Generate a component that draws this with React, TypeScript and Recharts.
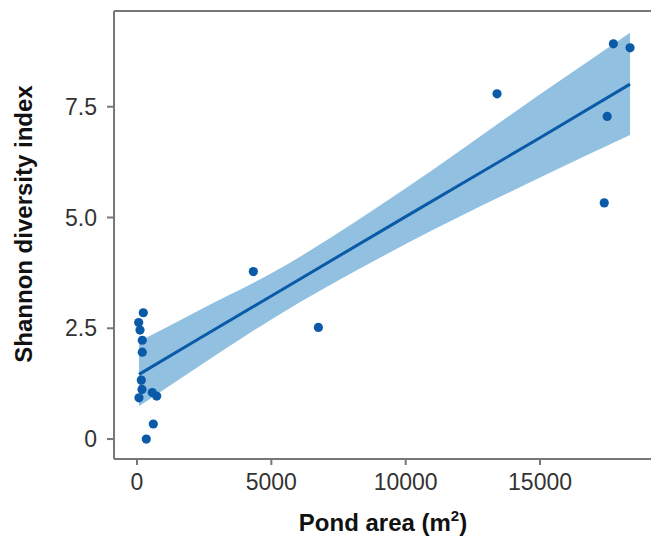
import React from 'react';
import {
  ComposedChart, Area, Line, Scatter, XAxis, YAxis, ReferenceLine
} from 'recharts';

// ponds: area (m2) vs Shannon index
const pondArea = [234, 63, 112, 197, 197, 160, 186, 74, 569, 733, 607, 346, 4330, 6750, 13400, 17730, 18350, 17500, 17390];
const shannon = [2.85, 2.63, 2.46, 2.23, 1.96, 1.33, 1.12, 0.93, 1.05, 0.97, 0.34, 0.0, 3.78, 2.52, 7.79, 8.92, 8.83, 7.28, 5.33];

// fitted line + confidence band
const fitX = [75, 2350, 5000, 10000, 15000, 18350];
const fitY = [1.46, 2.28, 3.23, 5.02, 6.80, 8.01];
const bandLow = [0.74, 1.66, 2.70, 4.40, 5.90, 6.86];
const bandHigh = [2.20, 2.92, 3.74, 5.66, 7.78, 9.17];

const xTicks = [0, 5000, 10000, 15000];
const yTicks = [0, 2.5, 5, 7.5];

const X_DOMAIN = [-856, 19130];
const Y_DOMAIN = [-0.45, 9.66];

const FONT = '"Liberation Sans", Arial, Helvetica, sans-serif';
const BLUE = '#0a5aa8';
const AXIS = '#777777';

const points = pondArea.map((x, i) => ({ x, y: shannon[i] }));
const fitRows = fitX.map((x, i) => ({ x, fit: fitY[i], band: [bandLow[i], bandHigh[i]] }));

const XLabel = () => (
  <text x={383} y={531} textAnchor="middle" fontFamily={FONT} fontWeight="bold" fontSize={24} fill="#111">
    Pond area (m
    <tspan dy={-10} fontSize={15}>2</tspan>
    <tspan dy={10}>)</tspan>
  </text>
);

const YLabel = () => (
  <text
    x={32}
    y={224}
    transform="rotate(-90 32 224)"
    textAnchor="middle"
    fontFamily={FONT}
    fontWeight="bold"
    fontSize={24}
    fill="#111"
  >
    Shannon diversity index
  </text>
);

const Dot = (props: any) => <circle cx={props.cx} cy={props.cy} r={4.6} fill={BLUE} />;

export default function App() {
  return (
    <div style={{ position: 'absolute', left: 0, top: 0, width: 651, height: 541, background: '#fff' }}>
      <ComposedChart width={651} height={541} data={fitRows} margin={{ top: 11, right: 0, bottom: 0, left: 0 }}>
        <XAxis
          dataKey="x"
          type="number"
          domain={X_DOMAIN}
          ticks={xTicks}
          allowDataOverflow
          height={82}
          stroke={AXIS}
          strokeWidth={2}
          tickSize={6}
          tickMargin={9}
          tick={{ fontSize: 23, fill: '#333', fontFamily: FONT }}
          label={<XLabel />}
        />
        <YAxis
          type="number"
          domain={Y_DOMAIN}
          ticks={yTicks}
          allowDataOverflow
          width={114}
          stroke={AXIS}
          strokeWidth={2}
          tickSize={7}
          tickMargin={10}
          tickFormatter={(v: number) => (v === 0 ? '0' : v.toFixed(1))}
          tick={{ fontSize: 23, fill: '#333', fontFamily: FONT }}
          label={<YLabel />}
        />
        <ReferenceLine y={Y_DOMAIN[1]} stroke={AXIS} strokeWidth={2} />
        <Area
          dataKey="band"
          type="monotone"
          stroke="none"
          fill="#91c0e0"
          fillOpacity={1}
          isAnimationActive={false}
        />
        <Line
          dataKey="fit"
          type="linear"
          stroke={BLUE}
          strokeWidth={3}
          dot={false}
          isAnimationActive={false}
        />
        <Scatter data={points} dataKey="y" shape={Dot} isAnimationActive={false} />
      </ComposedChart>
    </div>
  );
}
